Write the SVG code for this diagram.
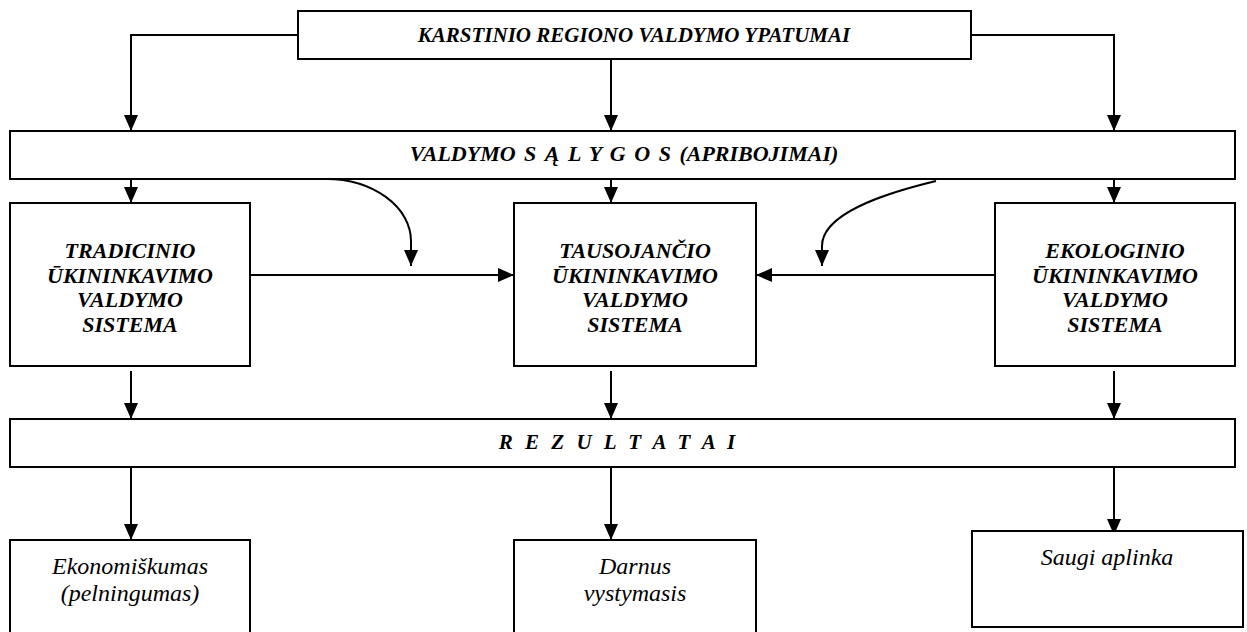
<svg xmlns="http://www.w3.org/2000/svg" width="1247" height="632" viewBox="0 0 1247 632">
<style>
  .box { fill: #fff; stroke: #000; stroke-width: 2; }
  .open { fill: none; stroke: #000; stroke-width: 2; }
  .c { fill: none; stroke: #000; stroke-width: 2; marker-end: url(#ah); }
  .bi { font-family: "Liberation Serif", "Times New Roman", serif; font-weight: bold; font-style: italic; fill: #000; text-anchor: middle; }
  .it { font-family: "Liberation Serif", "Times New Roman", serif; font-style: italic; font-size: 24px; fill: #000; text-anchor: middle; }
</style>
<defs>
  <marker id="ah" markerUnits="userSpaceOnUse" markerWidth="16" markerHeight="14" viewBox="0 0 16 14" refX="16" refY="7" orient="auto">
    <path d="M0,0 L16,7 L0,14 z" fill="#000"/>
  </marker>
</defs>
<rect width="1247" height="632" fill="#fff"/>

<g id="connectors">
  <path class="c" d="M298,35 H131 V131"/>
  <path class="c" d="M611,59 V131"/>
  <path class="c" d="M971,35 H1114 V131"/>
  <path class="c" d="M131,179 V203"/>
  <path class="c" d="M611,179 V203"/>
  <path class="c" d="M1114,179 V203"/>
  <path class="c" d="M326,179 A85 62 0 0 1 411,241 L411,266"/>
  <path class="c" d="M936,181 C882,194 822,214 822,246 L822,266"/>
  <path class="c" d="M250,275 H514"/>
  <path class="c" d="M995,275 H756"/>
  <path class="c" d="M131,371 V419"/>
  <path class="c" d="M611,371 V419"/>
  <path class="c" d="M1114,371 V419"/>
  <path class="c" d="M131,467 V540"/>
  <path class="c" d="M611,467 V540"/>
  <path class="c" d="M1114,467 V535"/>
</g>

<g id="node-ypatumai">
  <rect class="box" x="298" y="11" width="673" height="48"/>
  <text class="bi" x="634" y="42" font-size="21">KARSTINIO REGIONO VALDYMO YPATUMAI</text>
</g>

<g id="node-salygos">
  <rect class="box" x="10" y="131" width="1225" height="48"/>
  <text class="bi" x="624" y="161" font-size="22" style="word-spacing:3px">VALDYMO  S  Ą  L  Y  G  O  S (APRIBOJIMAI)</text>
</g>

<g id="node-tradicinio">
  <rect class="box" x="10" y="203" width="240" height="163"/>
  <text class="bi" font-size="22"><tspan x="130" y="258">TRADICINIO</tspan><tspan x="130" y="283">ŪKININKAVIMO</tspan><tspan x="130" y="307">VALDYMO</tspan><tspan x="130" y="332">SISTEMA</tspan></text>
</g>

<g id="node-tausojancio">
  <rect class="box" x="514" y="203" width="242" height="163"/>
  <text class="bi" font-size="22"><tspan x="635" y="258">TAUSOJANČIO</tspan><tspan x="635" y="283">ŪKININKAVIMO</tspan><tspan x="635" y="307">VALDYMO</tspan><tspan x="635" y="332">SISTEMA</tspan></text>
</g>

<g id="node-ekologinio">
  <rect class="box" x="995" y="203" width="240" height="163"/>
  <text class="bi" font-size="22"><tspan x="1115" y="258">EKOLOGINIO</tspan><tspan x="1115" y="283">ŪKININKAVIMO</tspan><tspan x="1115" y="307">VALDYMO</tspan><tspan x="1115" y="332">SISTEMA</tspan></text>
</g>

<g id="node-rezultatai">
  <rect class="box" x="10" y="419" width="1225" height="48"/>
  <text class="bi" x="617" y="449" font-size="21" style="word-spacing:7px">R E Z U L T A T A I</text>
</g>

<g id="node-ekonomiskumas">
  <path class="open" d="M10,633 V540 H250 V633"/>
  <text class="it"><tspan x="130" y="574">Ekonomiškumas</tspan><tspan x="130" y="601">(pelningumas)</tspan></text>
</g>

<g id="node-darnus">
  <path class="open" d="M514,633 V540 H756 V633"/>
  <text class="it"><tspan x="635" y="574">Darnus</tspan><tspan x="635" y="601">vystymasis</tspan></text>
</g>

<g id="node-saugi">
  <rect class="box" x="972" y="531" width="271" height="96" fill="none"/>
  <text class="it" x="1107" y="565" font-size="26">Saugi aplinka</text>
</g>
</svg>
